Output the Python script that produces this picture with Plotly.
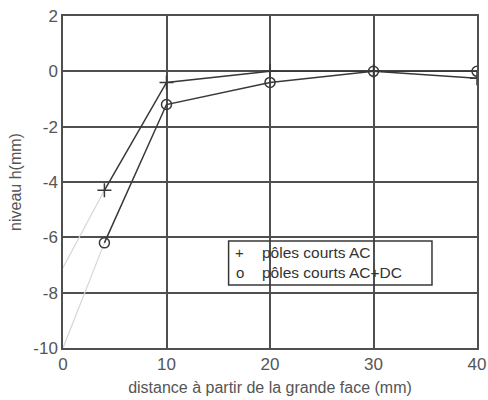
import plotly.graph_objects as go

# Data
distance = [4, 10, 20, 30, 40]
ac = [-4.3, -0.4, 0.0, 0.0, -0.25]
acdc = [-6.2, -1.2, -0.4, 0.0, 0.0]
ext_x = [0, 4]
ext_ac = [-7.1, -4.3]
ext_acdc = [-10.0, -6.2]
x_ticks = [0, 10, 20, 30, 40]
y_ticks = [-10, -8, -6, -4, -2, 0, 2]
y_tick_text = ["-10", "-8", "-6", "-4", "-2", "0", "2"]
names = ["pôles courts AC", "pôles courts AC+DC"]
legend_symbols = ["+", "o"]

line_col = "#383838"
grid_col = "#4f4f4f"
text_col = "#555555"
font_fam = "Liberation Sans, Arial, sans-serif"

fig = go.Figure()
fig.add_trace(go.Scatter(x=ext_x, y=ext_ac, mode="lines",
                         line=dict(color="#d6d6d6", width=1.2), showlegend=False, hoverinfo="skip"))
fig.add_trace(go.Scatter(x=ext_x, y=ext_acdc, mode="lines",
                         line=dict(color="#d6d6d6", width=1.2), showlegend=False, hoverinfo="skip"))
fig.add_trace(go.Scatter(x=distance, y=ac, mode="lines+markers", name=names[0],
                         line=dict(color=line_col, width=1.5),
                         marker=dict(symbol="cross-thin", size=10,
                                     line=dict(color=line_col, width=1.5), color=line_col),
                         showlegend=False))
fig.add_trace(go.Scatter(x=distance, y=acdc, mode="lines+markers", name=names[1],
                         line=dict(color=line_col, width=1.5),
                         marker=dict(symbol="circle-open", size=10,
                                     line=dict(color=line_col, width=1.5), color=line_col),
                         showlegend=False))

# Legend box drawn as in the reference
fig.add_shape(type="rect", xref="x", yref="y", x0=16.0, x1=35.65, y0=-7.72, y1=-6.13,
              line=dict(color=line_col, width=1.5), fillcolor="rgba(0,0,0,0)", layer="above")
leg_y = [-6.53, -7.26]
for i in range(2):
    fig.add_annotation(x=17.1, y=leg_y[i], xref="x", yref="y", text=legend_symbols[i],
                       showarrow=False, xanchor="center", yanchor="middle",
                       font=dict(family=font_fam, size=15, color="#333333"))
    fig.add_annotation(x=19.0, y=leg_y[i], xref="x", yref="y", text=names[i],
                       showarrow=False, xanchor="left", yanchor="middle",
                       font=dict(family=font_fam, size=15.5, color="#333333"))

fig.update_layout(
    width=488, height=400,
    margin=dict(l=63, r=11, t=16, b=52),
    paper_bgcolor="white", plot_bgcolor="white",
    font=dict(family=font_fam, size=16, color=text_col),
    showlegend=False,
    xaxis=dict(range=[0, 40], tickvals=x_ticks, showgrid=True, gridcolor=grid_col, gridwidth=1.5,
               zeroline=False, showline=True, linecolor=grid_col, linewidth=1.5, mirror=True,
               ticks="", automargin=False, tickfont=dict(size=17),
               title=dict(text="distance à partir de la grande face (mm)", standoff=9,
                          font=dict(size=16))),
    yaxis=dict(range=[-10, 2], tickvals=y_ticks, ticktext=y_tick_text, showgrid=True,
               gridcolor=grid_col, gridwidth=1.5,
               zeroline=False, showline=True, linecolor=grid_col, linewidth=1.5, mirror=True,
               ticks="", automargin=False, tickfont=dict(size=17),
               title=dict(text="niveau h(mm)", standoff=8, font=dict(size=16))),
)

fig.write_html("out.html", config={"displayModeBar": False},
               post_script="document.body.style.margin='0px';document.body.style.overflow='hidden';")
